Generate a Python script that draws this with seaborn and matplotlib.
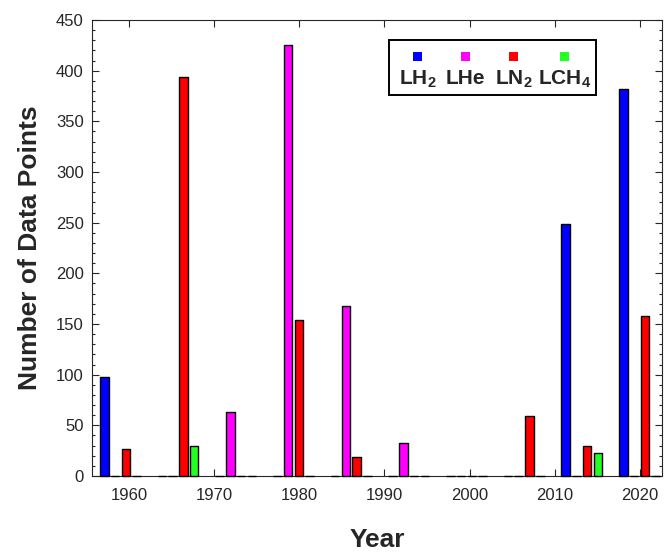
import numpy as np
import pandas as pd
import matplotlib
matplotlib.use("Agg")
import matplotlib.pyplot as plt
import seaborn as sns
from matplotlib.offsetbox import AnchoredOffsetbox, DrawingArea, HPacker, VPacker, TextArea
from matplotlib.patches import Rectangle
from matplotlib.ticker import MultipleLocator

# Bin centres (year) and counts per cryogen
years = [1959.0, 1965.77, 1972.54, 1979.32, 1986.09, 1992.86, 1999.63, 2006.40, 2013.17, 2019.95]
lh2 = [98, 0, 0, 0, 0, 0, 0, 0, 249, 382]
lhe = [0, 0, 63, 425, 168, 33, 0, 0, 0, 0]
ln2 = [27, 394, 0, 154, 19, 0, 0, 59, 30, 158]
lch4 = [0, 30, 0, 0, 0, 0, 0, 0, 23, 0]

fluids = ["LH2", "LHe", "LN2", "LCH4"]
fluid_labels = [r"$\mathbf{LH_2}$", "LHe", r"$\mathbf{LN_2}$", r"$\mathbf{LCH_4}$"]
colors = ["#0000ff", "#ff00ff", "#ff0000", "#22ff22"]
xticks = [1960, 1970, 1980, 1990, 2000, 2010, 2020]

df = pd.DataFrame({
    "Year": np.tile(years, 4),
    "Count": lh2 + lhe + ln2 + lch4,
    "Fluid": np.repeat(fluids, len(years)),
})

sns.set_style("ticks")
plt.rcParams["font.family"] = ["Liberation Sans", "DejaVu Sans"]
plt.rcParams["mathtext.fontset"] = "custom"
plt.rcParams["mathtext.bf"] = "Liberation Sans:bold"
plt.rcParams["mathtext.rm"] = "Liberation Sans"

dark = "#262626"
fig = plt.figure(figsize=(6.65, 5.56), dpi=100)
ax = fig.add_axes([0.1383, 0.1439, 0.8571, 0.8201])

sns.barplot(data=df, x="Year", y="Count", hue="Fluid", hue_order=fluids,
            palette=colors, native_scale=True, width=0.747, errorbar=None,
            edgecolor="black", linewidth=1.0, saturation=1, legend=False, ax=ax)

# narrow each bar inside its slot so neighbouring bars keep a small gap;
# empty bins still show their outline along the baseline
for p in ax.patches:
    w = p.get_width()
    cx = p.get_x() + w / 2
    nw = w * 0.79
    p.set_x(cx - nw / 2)
    p.set_width(nw)
    p.set_clip_on(False)
    p.set_zorder(3)

ax.set_xlim(1955.66, 2022.58)
ax.set_ylim(0, 450)
ax.set_xticks(xticks)
ax.set_xticklabels([str(t) for t in xticks])
ax.yaxis.set_major_locator(MultipleLocator(50))
ax.yaxis.set_minor_locator(MultipleLocator(10))
ax.tick_params(axis="both", which="both", direction="in", top=True, right=True,
               colors=dark, labelcolor=dark, labelsize=12, width=0.8)
ax.tick_params(axis="both", which="major", length=5)
ax.tick_params(axis="x", which="major", pad=9)
ax.tick_params(axis="y", which="major", pad=6)
ax.tick_params(axis="both", which="minor", length=2.5)
for s in ax.spines.values():
    s.set_visible(True)
    s.set_color(dark)
    s.set_linewidth(0.8)

ax.set_xlabel("Year", fontsize=19, fontweight="bold", color=dark, labelpad=18)
ax.set_ylabel("Number of Data Points", fontsize=19, fontweight="bold", color=dark, labelpad=10)

# legend: coloured squares above the fluid names
cols = []
for lab, c in zip(fluid_labels, colors):
    da = DrawingArea(34.5, 14, 0, 0)
    da.add_artist(Rectangle((14.0, 2.4), 6.5, 6.5, facecolor=c, edgecolor="none"))
    ta = TextArea(lab, textprops=dict(fontsize=15, fontweight="bold", color=dark))
    cols.append(VPacker(children=[da, ta], align="center", pad=0, sep=3))
row = HPacker(children=cols, align="baseline", pad=0, sep=0)
box = AnchoredOffsetbox(loc="upper left", child=row, pad=0.35, borderpad=0,
                        frameon=True, bbox_to_anchor=(0.521, 0.956),
                        bbox_transform=ax.transAxes)
box.patch.set_edgecolor("black")
box.patch.set_linewidth(1.4)
box.patch.set_boxstyle("square", pad=0)
ax.add_artist(box)

fig.savefig("out.png", dpi=100)
